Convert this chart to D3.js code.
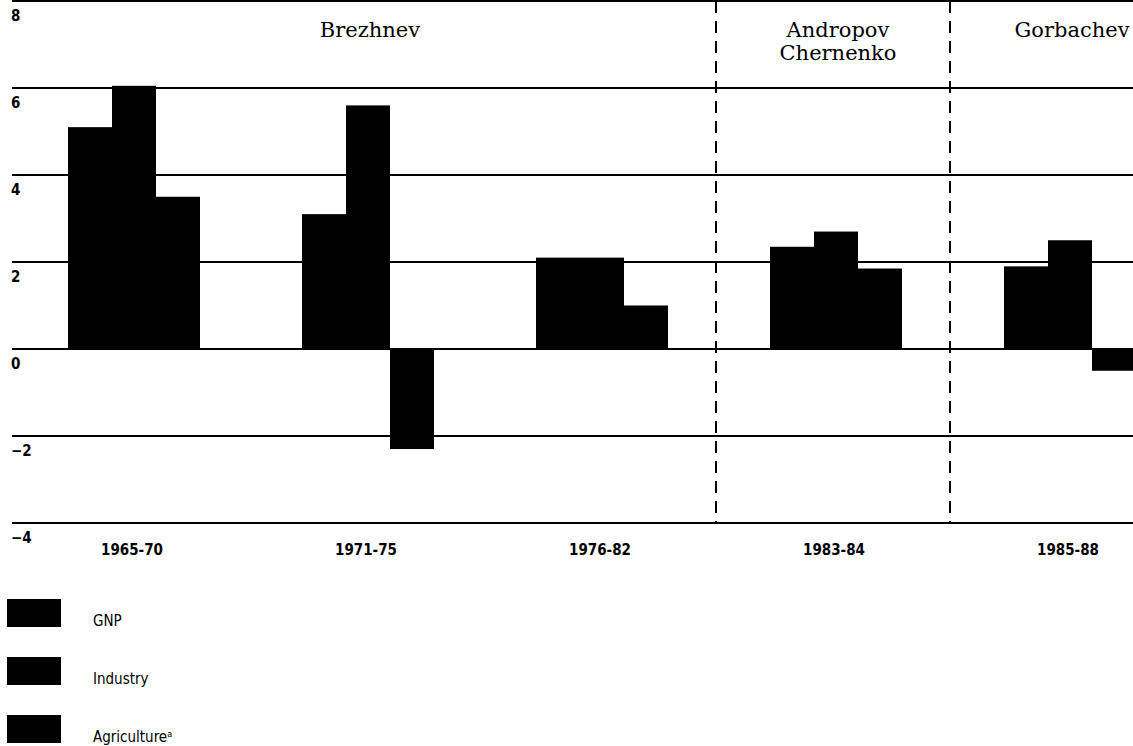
<!DOCTYPE html>
<html>
<head>
<meta charset="utf-8">
<script src="https://cdn.jsdelivr.net/npm/d3@7"></script>
<style>
  body { margin: 0; background: #fff; }
  svg { display: block; }
  .tick-label, .period-label { font-family: "DejaVu Sans Condensed", "DejaVu Sans", sans-serif; font-weight: bold; font-size: 15px; }
  .era-label { font-family: "DejaVu Serif", serif; font-size: 21px; }
  .legend-label { font-family: "DejaVu Sans Condensed", "DejaVu Sans", sans-serif; font-size: 15px; }
</style>
</head>
<body>
<div id="chart"></div>
<script>
// growth rates, percent per year
var periods = ["1965-70", "1971-75", "1976-82", "1983-84", "1985-88"];
var series = ["GNP", "Industry", "Agriculture"];
var gnp = [5.1, 3.1, 2.1, 2.35, 1.9];
var industry = [6.05, 5.6, 2.1, 2.7, 2.5];
var agriculture = [3.5, -2.3, 1.0, 1.85, -0.5];
var yTicks = [8, 6, 4, 2, 0, -2, -4];

var eraNames = [["Brezhnev"], ["Andropov", "Chernenko"], ["Gorbachev"]];
var eraPeriods = [["1965-70", "1976-82"], ["1983-84", "1983-84"], ["1985-88", "1985-88"]];

var values = { "GNP": gnp, "Industry": industry, "Agriculture": agriculture };
var rows = [];
periods.forEach(function(p, i) {
  series.forEach(function(s) { rows.push({ period: p, series: s, value: values[s][i] }); });
});

var width = 1133, height = 746;

var svg = d3.select("#chart").append("svg")
    .attr("width", width)
    .attr("height", height);

var y = d3.scaleLinear().domain([-4, 8]).range([523, 1]);

var x = d3.scaleBand()
    .domain(periods)
    .range([17, 1187])
    .paddingInner(1 - 132 / 234)
    .paddingOuter((1 - 132 / 234) / 2);

var xs = d3.scaleBand().domain(series).range([0, x.bandwidth()]);

// gridlines
svg.append("g").selectAll("line")
    .data(yTicks)
  .enter().append("line")
    .attr("x1", 12)
    .attr("x2", width)
    .attr("y1", function(d) { return y(d); })
    .attr("y2", function(d) { return y(d); })
    .attr("stroke", "#000")
    .attr("stroke-width", 2);

svg.append("g").selectAll("text")
    .data(yTicks)
  .enter().append("text")
    .classed("tick-label", true)
    .attr("x", 11)
    .attr("y", function(d) { return y(d) + 20; })
    .text(function(d) { return d < 0 ? "\u2212" + Math.abs(d) : d; });

// era dividers, a little left of the gap centre as in the original
var gap = x.step() - x.bandwidth();
svg.append("g").selectAll("line")
    .data(eraPeriods.slice(1))
  .enter().append("line")
    .attr("x1", function(d) { return x(d[0]) - gap / 2 - 3; })
    .attr("x2", function(d) { return x(d[0]) - gap / 2 - 3; })
    .attr("y1", 1)
    .attr("y2", 523)
    .attr("stroke", "#000")
    .attr("stroke-width", 2)
    .attr("stroke-dasharray", "12,8");

// bars
svg.append("g").selectAll("rect")
    .data(rows)
  .enter().append("rect")
    .attr("x", function(d) { return x(d.period) + xs(d.series); })
    .attr("width", xs.bandwidth())
    .attr("y", function(d) { return y(Math.max(0, d.value)); })
    .attr("height", function(d) { return Math.abs(y(d.value) - y(0)); })
    .attr("fill", "#000");

// period labels
svg.append("g").selectAll("text")
    .data(periods)
  .enter().append("text")
    .classed("period-label", true)
    .attr("x", function(d) { return x(d) + x.bandwidth() / 2 - 2; })
    .attr("y", 555)
    .attr("text-anchor", "middle")
    .text(function(d) { return d; });

// era labels
var era = svg.append("g").selectAll("text")
    .data(eraNames)
  .enter().append("text")
    .classed("era-label", true)
    .attr("text-anchor", "middle")
    .attr("x", function(d, i) {
      var a = eraPeriods[i][0], b = eraPeriods[i][1];
      return (x(a) + x(b) + x.bandwidth()) / 2 + 2;
    })
    .attr("y", 37);

era.selectAll("tspan")
    .data(function(d) { return d; })
  .enter().append("tspan")
    .attr("x", function() { return d3.select(this.parentNode).attr("x"); })
    .attr("dy", function(d, i) { return i ? 23 : 0; })
    .text(function(d) { return d; });

// legend
var legend = svg.append("g").selectAll("g")
    .data(series)
  .enter().append("g")
    .attr("transform", function(d, i) { return "translate(7," + (599 + i * 58) + ")"; });

legend.append("rect")
    .attr("width", 54)
    .attr("height", 28)
    .attr("fill", "#000");

var lt = legend.append("text")
    .classed("legend-label", true)
    .attr("x", 86)
    .attr("y", 27)
    .text(function(d) { return d; });

lt.filter(function(d) { return d === "Agriculture"; })
  .append("tspan")
    .attr("font-size", 9)
    .attr("dy", -5)
    .text("a");
</script>
</body>
</html>
